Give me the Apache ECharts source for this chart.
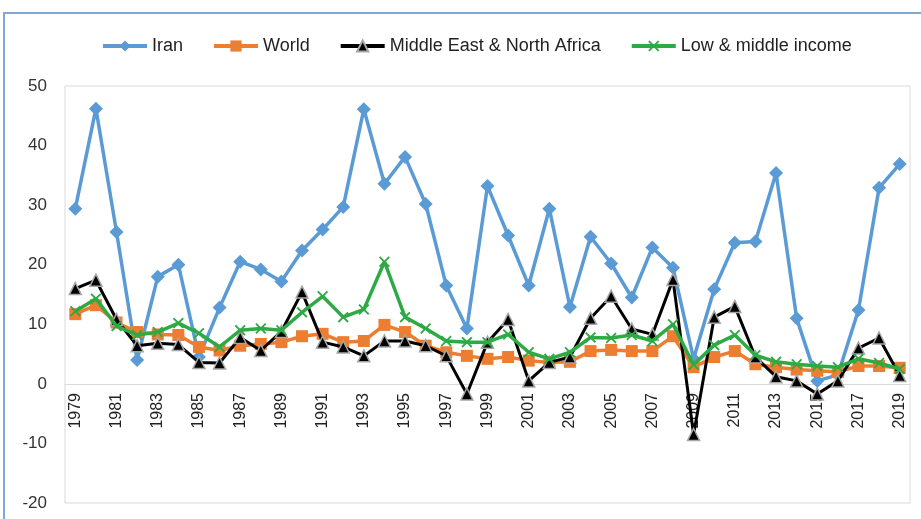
<!DOCTYPE html>
<html>
<head>
    <meta charset="utf-8">
    <title>ECharts</title>
    <script type="text/javascript" src="https://cdn.jsdelivr.net/npm/echarts@6/dist/echarts.min.js"></script>
    <style>
        html, body { margin: 0; padding: 0; background: #fff; }
    </style>
</head>
<body>
<div id="main" style="width:921px; height:519px;"></div>
<script type="text/javascript">
var years = [];
for (var y = 1979; y <= 2019; y++) years.push(String(y));

var iran = [29.4, 46.2, 25.5, 4.0, 18.0, 20.0, 4.5, 12.8, 20.5, 19.2, 17.2, 22.4, 25.9, 29.7, 46.1, 33.6, 38.1, 30.2, 16.5, 9.3,
    33.2, 24.9, 16.5, 29.4, 12.9, 24.7, 20.2, 14.5, 22.9, 19.5, 4.2, 15.9, 23.7, 23.9, 35.4, 11.0, 0.5, 1.5, 12.4, 32.9, 36.9];
var world = [11.7, 13.2, 10.3, 8.7, 8.3, 8.2, 6.2, 5.6, 6.4, 6.7, 7.0, 8.0, 8.4, 7.0, 7.2, 9.9, 8.7, 6.4, 5.3, 4.7,
    4.2, 4.5, 3.9, 3.6, 3.7, 5.5, 5.7, 5.5, 5.5, 8.0, 2.8, 4.5, 5.5, 3.3, 2.8, 2.4, 2.2, 2.0, 3.0, 3.0, 2.7];
var mena = [16.0, 17.4, 10.8, 6.4, 6.8, 6.6, 3.6, 3.5, 7.8, 5.6, 8.8, 15.4, 7.0, 6.2, 4.7, 7.2, 7.2, 6.4, 4.7, -1.7,
    7.0, 10.8, 0.5, 3.6, 4.5, 11.0, 14.7, 9.2, 8.3, 17.5, -8.5, 11.2, 13.0, 4.5, 1.2, 0.5, -1.7, 0.5, 6.0, 7.7, 1.4];
var lmi = [12.2, 14.3, 9.7, 8.2, 8.7, 10.2, 8.5, 6.2, 9.0, 9.3, 9.0, 12.0, 14.7, 11.2, 12.5, 20.5, 11.2, 9.3, 7.2, 7.0,
    7.0, 8.3, 5.3, 4.2, 5.3, 7.8, 7.7, 8.2, 7.2, 10.0, 3.2, 6.5, 8.2, 4.8, 3.7, 3.3, 3.0, 2.8, 4.2, 3.5, 2.5];

var seriesNames = ['Iran', 'World', 'Middle East & North Africa', 'Low & middle income'];
var xMark = 'path://M0,1.2L1.2,0L5,3.8L8.8,0L10,1.2L6.2,5L10,8.8L8.8,10L5,6.2L1.2,10L0,8.8L3.8,5Z';

// grid spans y 86..503 for -20..50, so the zero line sits 119px above the bottom
var zeroOffset = -119;

var myChart = echarts.init(document.getElementById('main'));
var option = {
    backgroundColor: '#fff',
    textStyle: { fontFamily: 'Liberation Sans' },
    graphic: [{
        type: 'polyline',
        shape: { points: [[4, 519], [4, 13], [921, 13]] },
        style: { stroke: '#7fa7d8', lineWidth: 2, fill: null },
        silent: true
    }],
    legend: {
        top: 32,
        left: 96,
        itemWidth: 44,
        itemHeight: 14,
        itemGap: 29,
        lineStyle: { width: 4 },
        textStyle: { fontSize: 18, color: '#222' },
        data: seriesNames
    },
    grid: {
        left: 65, right: 11, top: 86, bottom: 16,
        show: true, borderColor: '#d9d9d9', borderWidth: 1
    },
    xAxis: {
        type: 'category',
        data: years,
        boundaryGap: true,
        position: 'bottom',
        offset: zeroOffset,
        axisLine: { onZero: false, lineStyle: { color: '#d9d9d9', width: 1 } },
        axisTick: { show: false },
        axisLabel: { interval: 1, rotate: 90, fontSize: 16, color: '#222', margin: 9 },
        splitLine: { show: false }
    },
    yAxis: {
        type: 'value',
        min: -20, max: 50, interval: 10,
        axisLine: { show: false },
        axisTick: { show: false },
        splitLine: { show: false },
        axisLabel: { fontSize: 17, color: '#333', margin: 18 }
    },
    series: [
        {
            name: seriesNames[0], type: 'line', data: iran,
            symbol: 'diamond', symbolSize: 14, showAllSymbol: true,
            lineStyle: { color: '#5b9bd5', width: 3.5 },
            itemStyle: { color: '#5b9bd5' }, z: 2
        },
        {
            name: seriesNames[1], type: 'line', data: world,
            symbol: 'rect', symbolSize: 12, showAllSymbol: true,
            lineStyle: { color: '#ed7d31', width: 3.5 },
            itemStyle: { color: '#ed7d31' }, z: 3
        },
        {
            name: seriesNames[2], type: 'line', data: mena,
            symbol: 'triangle', symbolSize: 12, showAllSymbol: true,
            lineStyle: { color: '#000', width: 3 },
            itemStyle: { color: '#000', borderColor: '#a6a6a6', borderWidth: 1.5 }, z: 4
        },
        {
            name: seriesNames[3], type: 'line', data: lmi,
            symbol: xMark, symbolSize: 11, showAllSymbol: true,
            lineStyle: { color: '#2eaa45', width: 3.5 },
            itemStyle: { color: '#2eaa45' }, z: 5
        }
    ]
};
myChart.setOption(option);
</script>
</body>
</html>
